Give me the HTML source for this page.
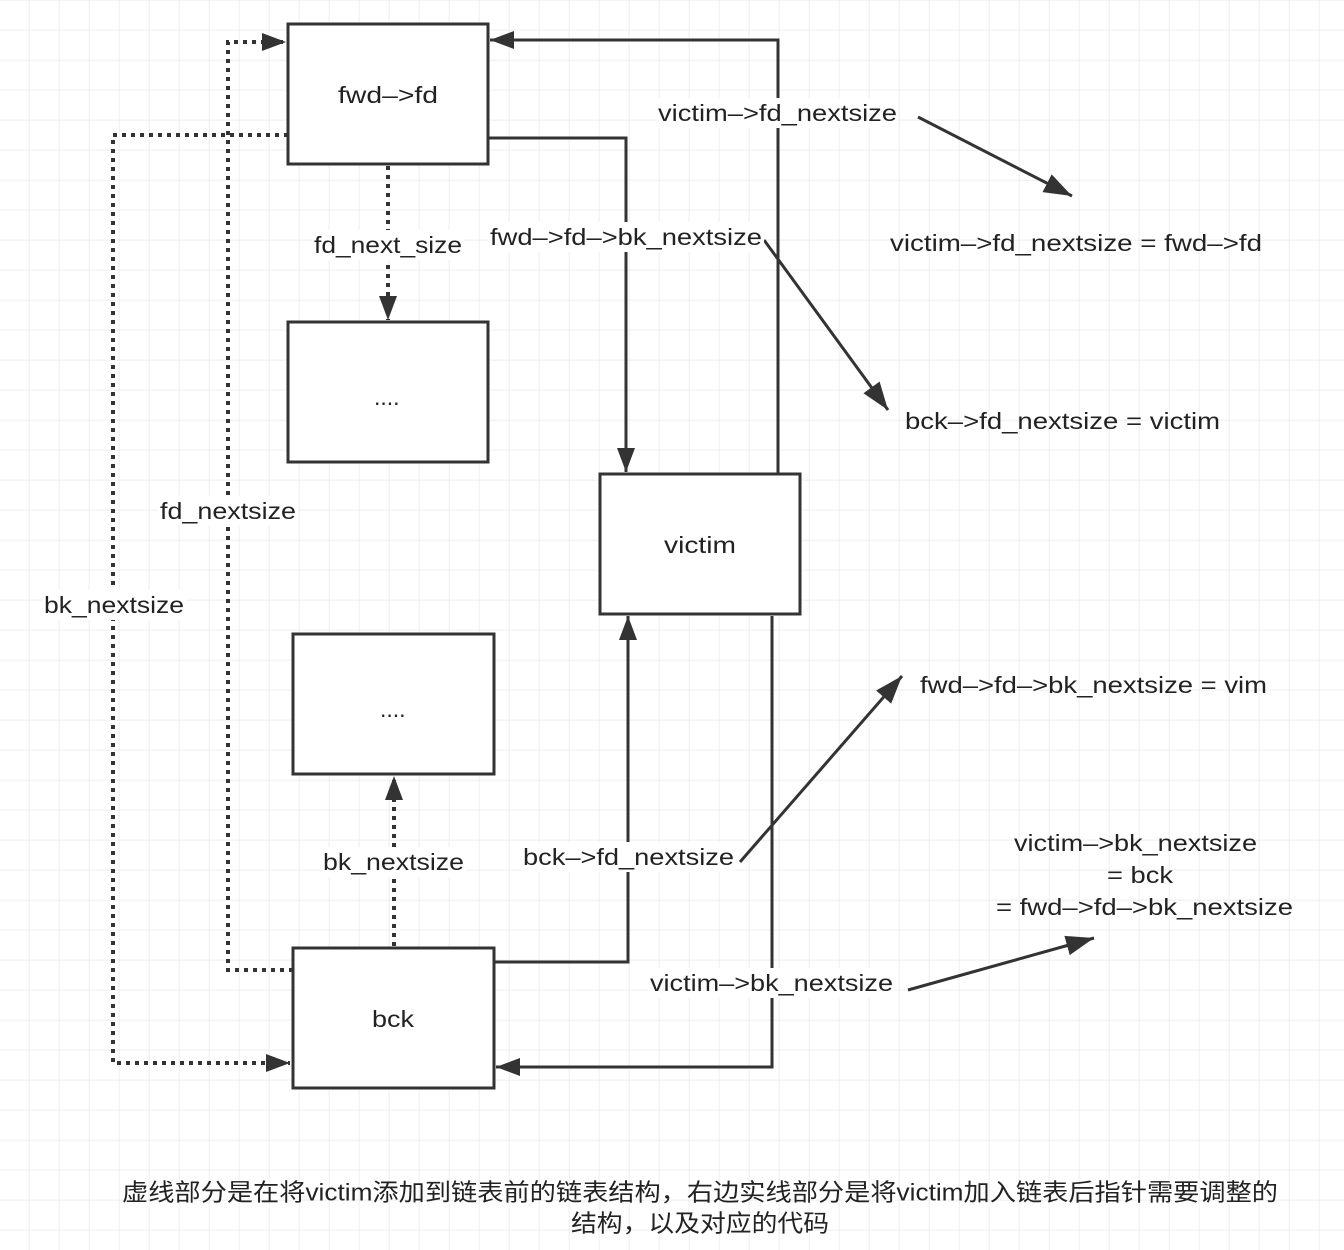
<!DOCTYPE html>
<html><head><meta charset="utf-8"><style>
html,body{margin:0;padding:0;background:#fff;}
svg{display:block;}
text{font-family:"Liberation Sans","Noto Sans CJK SC",sans-serif;fill:#222;}
</style></head><body>
<svg width="1344" height="1250" viewBox="0 0 1344 1250" xmlns="http://www.w3.org/2000/svg">
<defs>
<pattern id="g" x="-0.5" y="0.5" width="30" height="30" patternUnits="userSpaceOnUse">
<path d="M30 0V30M0 30H30" stroke="#e8e8e8" stroke-width="1.5" fill="none"/>
</pattern>
<marker id="a" markerUnits="userSpaceOnUse" markerWidth="30" markerHeight="26" refX="28" refY="13" orient="auto">
<path d="M0 3L28 13L0 23Z" fill="#333"/>
</marker>
<marker id="b" markerUnits="userSpaceOnUse" markerWidth="26" markerHeight="22" refX="24" refY="11" orient="auto">
<path d="M0 2L24 11L0 20Z" fill="#333"/>
</marker>
</defs>
<rect width="1344" height="1250" fill="url(#g)"/>

<g fill="none" stroke="#333" stroke-width="4" stroke-dasharray="4 5">
<path d="M288 135H113V1063H290" marker-end="url(#b)"/>
<path d="M293 970H228V42H286" marker-end="url(#b)"/>
<path d="M388 166V320" marker-end="url(#b)"/>
<path d="M394 946V776" marker-end="url(#b)"/>
</g>
<g fill="none" stroke="#333" stroke-width="3">
<path d="M488 138H626V472" marker-end="url(#b)"/>
<path d="M778 474V40H490" marker-end="url(#b)"/>
<path d="M494 962H628V616" marker-end="url(#b)"/>
<path d="M772 616V1067H496" marker-end="url(#b)"/>
<path d="M918 117L1072 196" marker-end="url(#a)"/>
<path d="M764 240L888 410" marker-end="url(#a)"/>
<path d="M740 862L902 676" marker-end="url(#a)"/>
<path d="M908 990L1094 938" marker-end="url(#a)"/>
</g>

<g fill="#fff" stroke="#333" stroke-width="3">
<rect x="288" y="24" width="200" height="140"/>
<rect x="288" y="322" width="200" height="140"/>
<rect x="600" y="474" width="200" height="140"/>
<rect x="293" y="634" width="201" height="140"/>
<rect x="293" y="948" width="201" height="140"/>
</g>

<g fill="#fff">
<rect x="656" y="98" width="242" height="30"/>
<rect x="488" y="222" width="276" height="30"/>
<rect x="312" y="230" width="152" height="30"/>
<rect x="158" y="496" width="140" height="30"/>
<rect x="42" y="590" width="144" height="30"/>
<rect x="321" y="847" width="145" height="30"/>
<rect x="521" y="842" width="215" height="30"/>
<rect x="648" y="968" width="247" height="30"/>
</g>

<g font-size="23" dominant-baseline="central">
<text x="338" y="95" textLength="100" lengthAdjust="spacingAndGlyphs">fwd–&gt;fd</text>
<text x="374" y="397">....</text>
<text x="664" y="545" textLength="72" lengthAdjust="spacingAndGlyphs">victim</text>
<text x="380" y="709">....</text>
<text x="372" y="1019" textLength="42" lengthAdjust="spacingAndGlyphs">bck</text>

<text x="658" y="113" textLength="239" lengthAdjust="spacingAndGlyphs">victim–&gt;fd_nextsize</text>
<text x="490" y="237" textLength="272" lengthAdjust="spacingAndGlyphs">fwd–&gt;fd–&gt;bk_nextsize</text>
<text x="314" y="245" textLength="148" lengthAdjust="spacingAndGlyphs">fd_next_size</text>
<text x="160" y="511" textLength="136" lengthAdjust="spacingAndGlyphs">fd_nextsize</text>
<text x="44" y="605" textLength="140" lengthAdjust="spacingAndGlyphs">bk_nextsize</text>
<text x="323" y="862" textLength="141" lengthAdjust="spacingAndGlyphs">bk_nextsize</text>
<text x="523" y="857" textLength="211" lengthAdjust="spacingAndGlyphs">bck–&gt;fd_nextsize</text>
<text x="650" y="983" textLength="243" lengthAdjust="spacingAndGlyphs">victim–&gt;bk_nextsize</text>

<text x="890" y="243" textLength="372" lengthAdjust="spacingAndGlyphs">victim–&gt;fd_nextsize = fwd–&gt;fd</text>
<text x="905" y="421" textLength="315" lengthAdjust="spacingAndGlyphs">bck–&gt;fd_nextsize = victim</text>
<text x="920" y="685" textLength="347" lengthAdjust="spacingAndGlyphs">fwd–&gt;fd–&gt;bk_nextsize = vim</text>
<text x="1014" y="843" textLength="243" lengthAdjust="spacingAndGlyphs">victim–&gt;bk_nextsize</text>
<text x="1107" y="875" textLength="66" lengthAdjust="spacingAndGlyphs">= bck</text>
<text x="996" y="907" textLength="297" lengthAdjust="spacingAndGlyphs">= fwd–&gt;fd–&gt;bk_nextsize</text>
</g>
<g font-size="24" dominant-baseline="central">
<text x="122" y="1193" textLength="1156" lengthAdjust="spacingAndGlyphs">虚线部分是在将victim添加到链表前的链表结构，右边实线部分是将victim加入链表后指针需要调整的</text>
<text x="571" y="1224" textLength="258" lengthAdjust="spacingAndGlyphs">结构，以及对应的代码</text>
</g>
</svg>
</body></html>
